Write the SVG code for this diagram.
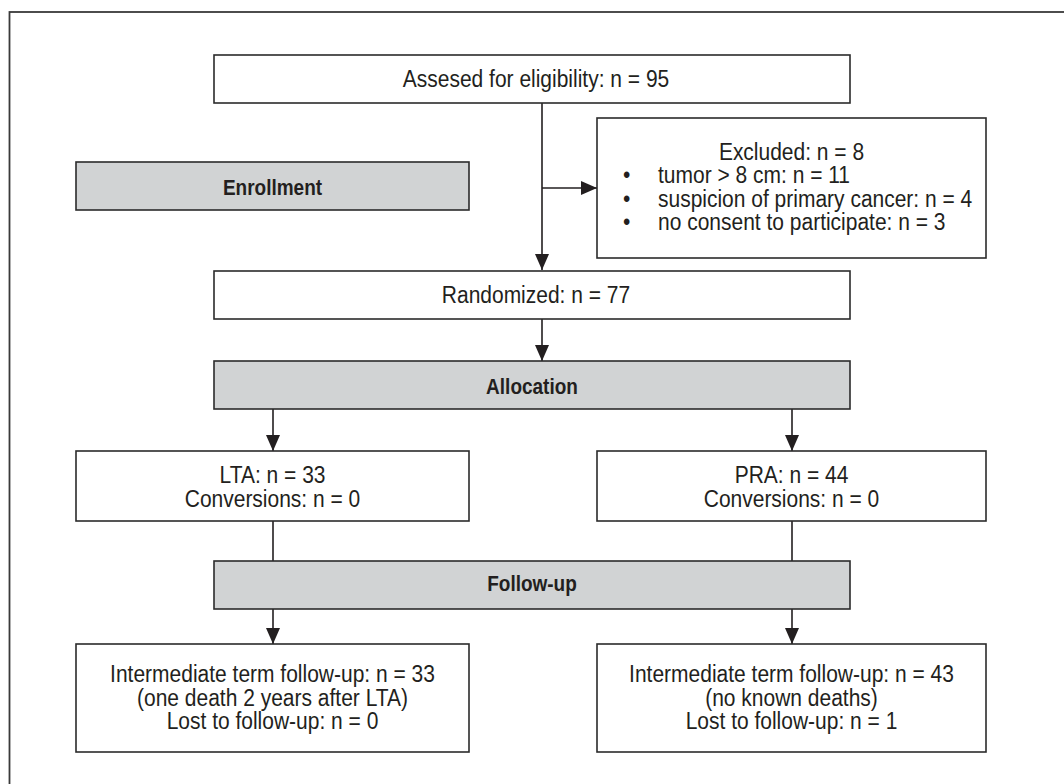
<svg xmlns="http://www.w3.org/2000/svg" width="1064" height="784" viewBox="0 0 1064 784">
<style>
.box{fill:#fff;stroke:#2b2b2b;stroke-width:1.6}
.hdr{fill:#d1d3d4;stroke:#2b2b2b;stroke-width:1.6}
.t{font-family:"Liberation Sans",Arial,sans-serif;font-size:21px;fill:#231f20;text-anchor:middle}
.b{font-family:"Liberation Sans",Arial,sans-serif;font-size:19px;font-weight:bold;fill:#231f20;text-anchor:middle}
.l{text-anchor:start}
.c{fill:none;stroke:#231f20;stroke-width:1.6}
</style>
<defs>
<marker id="ah" markerUnits="userSpaceOnUse" markerWidth="17" markerHeight="14" refX="16" refY="7" orient="auto">
<path d="M0,0 L16,7 L0,14 z" fill="#231f20"/>
</marker>
</defs>
<rect width="1064" height="784" fill="#fff"/>
<rect x="9.5" y="12" width="1100" height="820" fill="none" stroke="#3a3a3a" stroke-width="1.8"/>
<g id="connectors">
<line class="c" x1="542" y1="103" x2="542" y2="270" marker-end="url(#ah)"/>
<line class="c" x1="542" y1="188" x2="597" y2="188" marker-end="url(#ah)"/>
<line class="c" x1="542" y1="319" x2="542" y2="361" marker-end="url(#ah)"/>
<line class="c" x1="273" y1="409" x2="273" y2="451" marker-end="url(#ah)"/>
<line class="c" x1="792" y1="409" x2="792" y2="451" marker-end="url(#ah)"/>
<line class="c" x1="273" y1="521" x2="273" y2="561"/>
<line class="c" x1="792" y1="521" x2="792" y2="561"/>
<line class="c" x1="273" y1="609" x2="273" y2="644" marker-end="url(#ah)"/>
<line class="c" x1="792" y1="609" x2="792" y2="644" marker-end="url(#ah)"/>
</g>
<g id="assessed">
<rect class="box" x="214" y="55" width="636" height="48"/>
<text class="t" transform="translate(536,87) scale(1,1.15)">Assesed for eligibility: n = 95</text>
</g>
<g id="enrollment">
<rect class="hdr" x="76" y="162" width="393" height="48"/>
<text class="b" transform="translate(272.5,195) scale(1,1.2)">Enrollment</text>
</g>
<g id="excluded">
<rect class="box" x="597" y="118" width="389" height="140"/>
<text class="t" transform="translate(791.5,159.5) scale(1,1.15)">Excluded: n = 8</text>
<text class="t l" transform="translate(0,183) scale(1,1.15)"><tspan x="623">•</tspan><tspan x="658">tumor &gt; 8 cm: n = 11</tspan></text>
<text class="t l" transform="translate(0,206.5) scale(1,1.15)"><tspan x="623">•</tspan><tspan x="658">suspicion of primary cancer: n = 4</tspan></text>
<text class="t l" transform="translate(0,230) scale(1,1.15)"><tspan x="623">•</tspan><tspan x="658">no consent to participate: n = 3</tspan></text>
</g>
<g id="randomized">
<rect class="box" x="214" y="271" width="636" height="48"/>
<text class="t" transform="translate(536,303) scale(1,1.15)">Randomized: n = 77</text>
</g>
<g id="allocation">
<rect class="hdr" x="214" y="361" width="636" height="48"/>
<text class="b" transform="translate(532,394) scale(1,1.2)">Allocation</text>
</g>
<g id="lta">
<rect class="box" x="76" y="451" width="393" height="70"/>
<text class="t" transform="translate(272.5,483) scale(1,1.15)">LTA: n = 33</text>
<text class="t" transform="translate(272.5,507) scale(1,1.15)">Conversions: n = 0</text>
</g>
<g id="pra">
<rect class="box" x="597" y="451" width="389" height="70"/>
<text class="t" transform="translate(791.5,483) scale(1,1.15)">PRA: n = 44</text>
<text class="t" transform="translate(791.5,507) scale(1,1.15)">Conversions: n = 0</text>
</g>
<g id="followup">
<rect class="hdr" x="214" y="561" width="636" height="48"/>
<text class="b" transform="translate(532,591) scale(1,1.2)">Follow-up</text>
</g>
<g id="lta-followup">
<rect class="box" x="76" y="644" width="393" height="108"/>
<text class="t" transform="translate(272.5,682) scale(1,1.15)">Intermediate term follow-up: n = 33</text>
<text class="t" transform="translate(272.5,705.5) scale(1,1.15)">(one death 2 years after LTA)</text>
<text class="t" transform="translate(272.5,729) scale(1,1.15)">Lost to follow-up: n = 0</text>
</g>
<g id="pra-followup">
<rect class="box" x="597" y="644" width="389" height="108"/>
<text class="t" transform="translate(791.5,682) scale(1,1.15)">Intermediate term follow-up: n = 43</text>
<text class="t" transform="translate(791.5,705.5) scale(1,1.15)">(no known deaths)</text>
<text class="t" transform="translate(791.5,729) scale(1,1.15)">Lost to follow-up: n = 1</text>
</g>
</svg>
